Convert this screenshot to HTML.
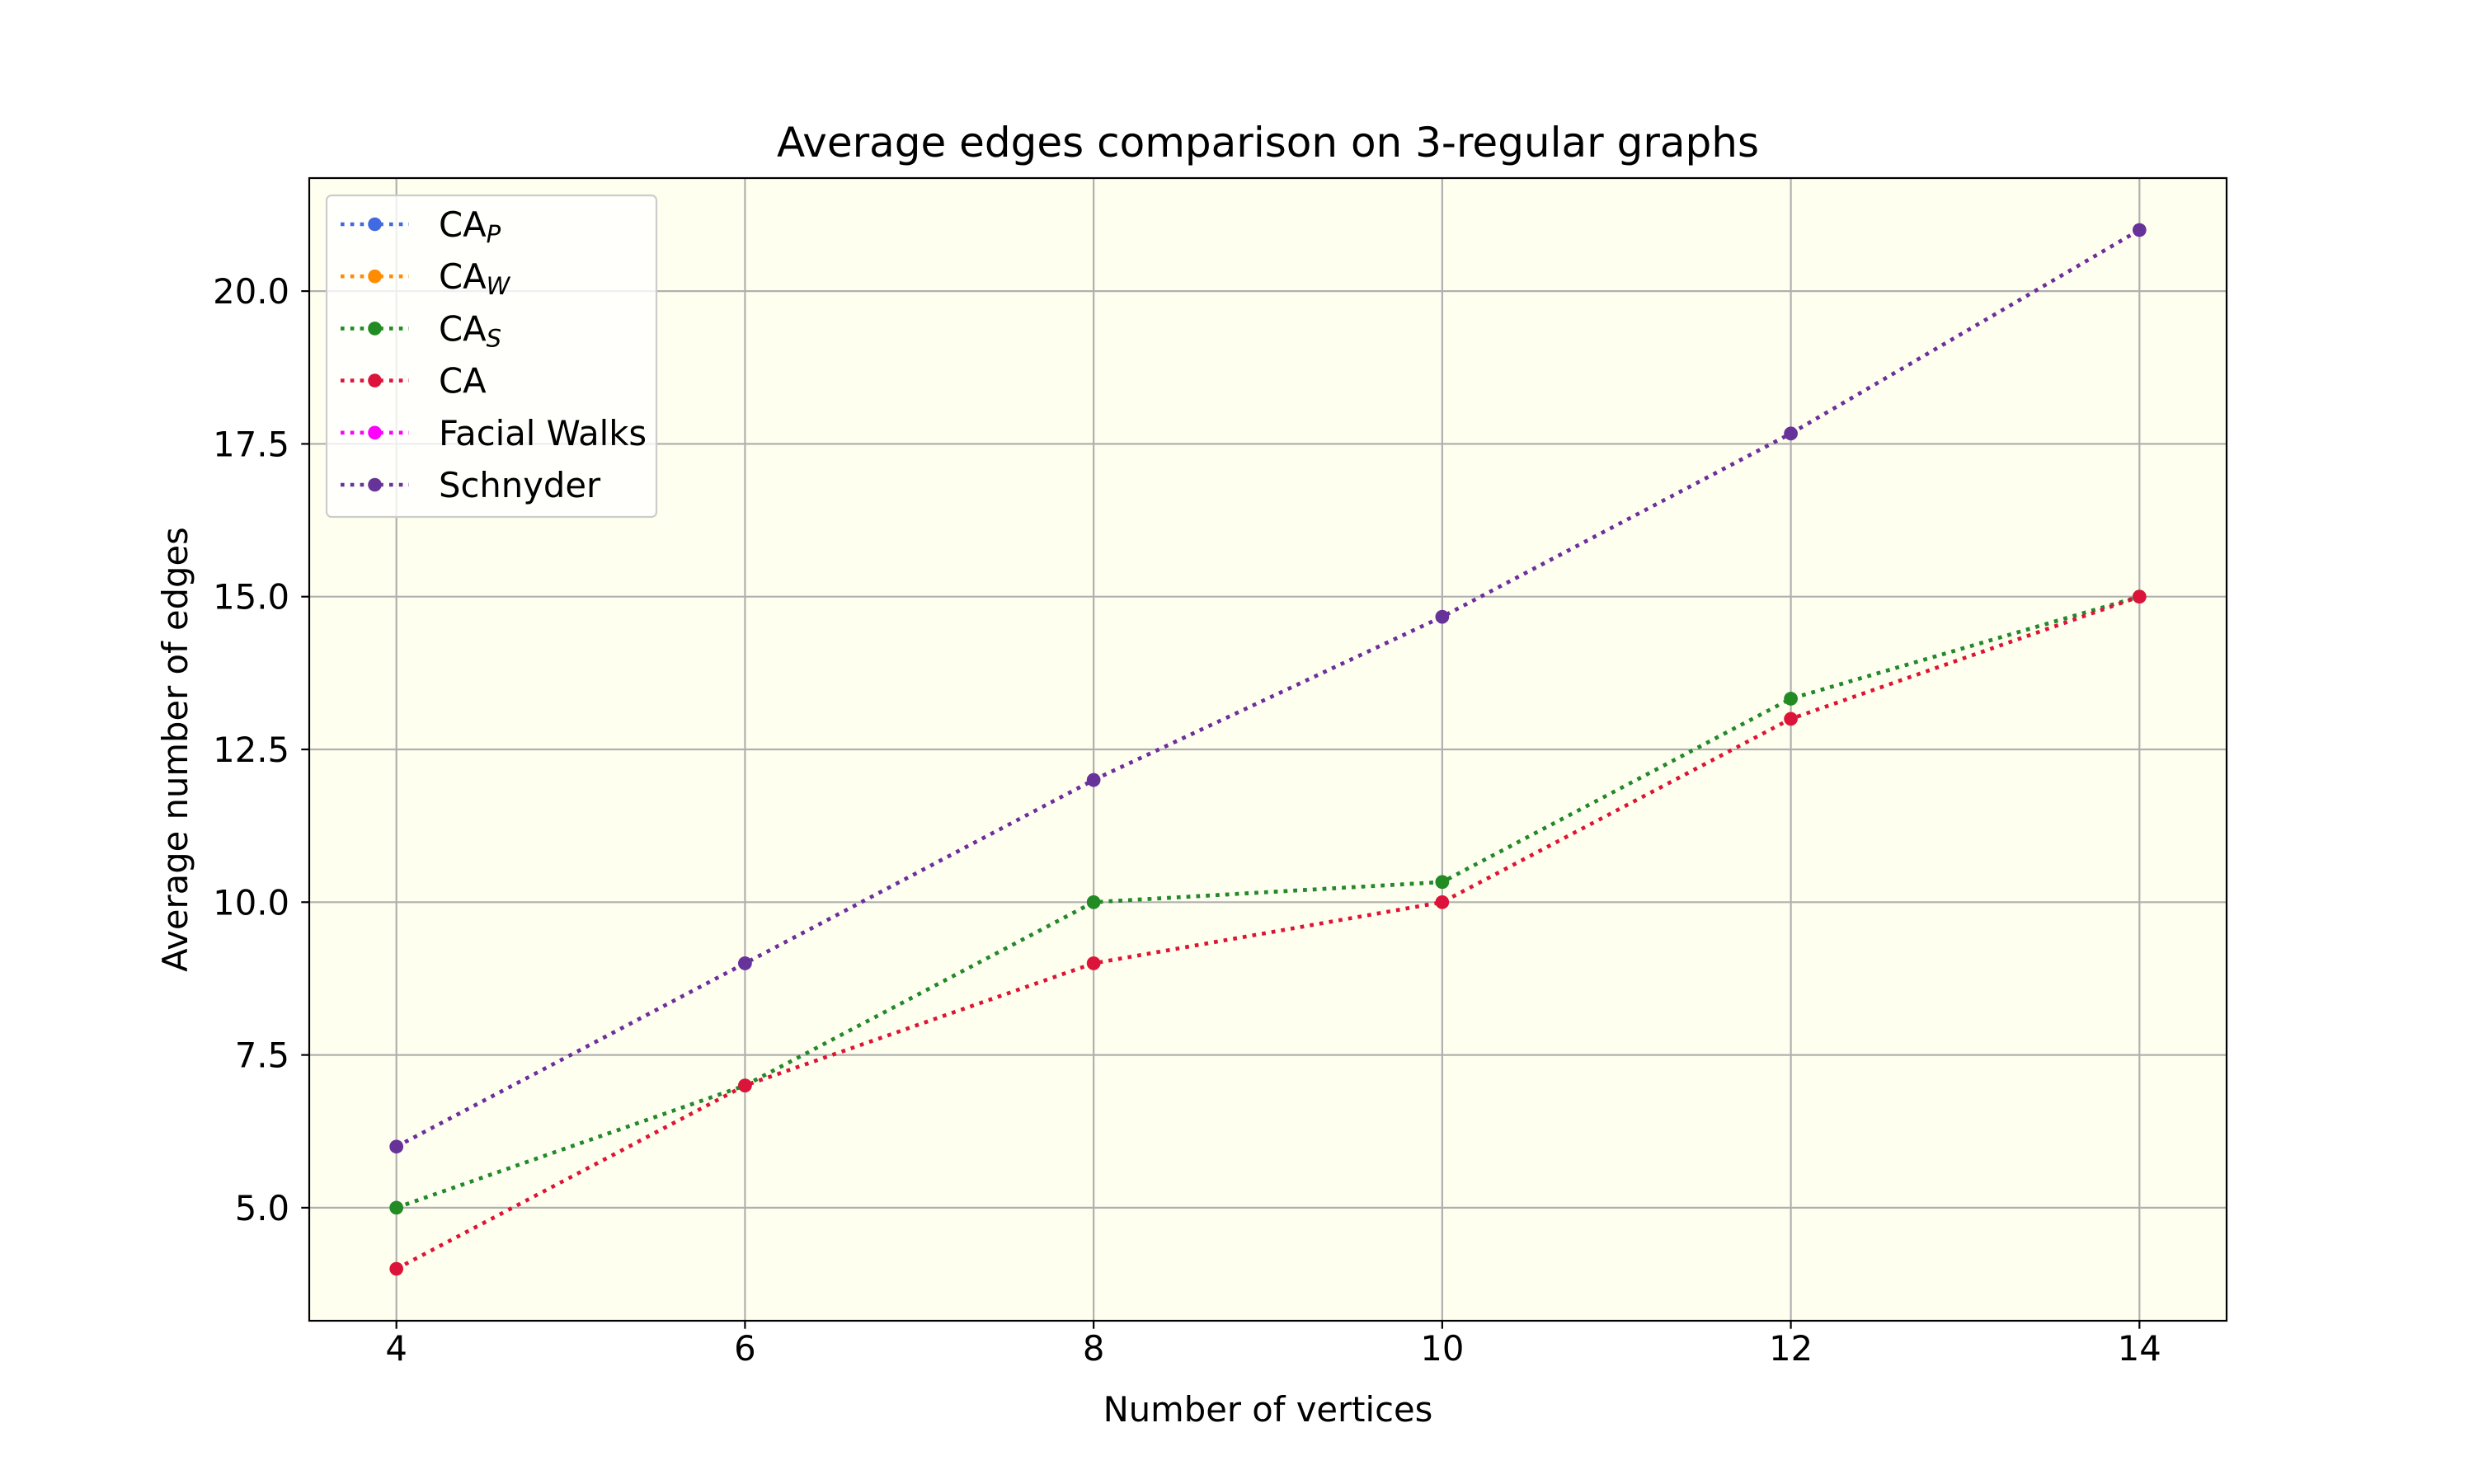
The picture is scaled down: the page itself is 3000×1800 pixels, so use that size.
<!DOCTYPE html>
<html><head><meta charset="utf-8"><style>
html,body{margin:0;padding:0;background:#fff}
svg{display:block;font-family:"DejaVu Sans","Liberation Sans",sans-serif}
</style></head><body>
<svg id="chart" width="3000" height="1800" viewBox="0 0 3000 1800" xmlns="http://www.w3.org/2000/svg">
<rect x="0" y="0" width="3000" height="1800" fill="#ffffff"/>
<rect x="375" y="216" width="2325" height="1386" fill="#fffff0"/>
<g id="grid"></g>
<g id="series"></g>
<rect x="375" y="216" width="2325" height="1386" fill="none" stroke="#000" stroke-width="2.2"/>
<g id="ticks"></g>
<text x="1537.5" y="190" font-size="50" text-anchor="middle">Average edges comparison on 3-regular graphs</text>
<text x="1537.5" y="1724" font-size="41.7" text-anchor="middle">Number of vertices</text>
<text x="227" y="909" font-size="41.7" text-anchor="middle" transform="rotate(-90 227 909)">Average number of edges</text>
<g id="legend">
<rect x="396" y="237" width="400" height="390" rx="6" fill="#ffffff" fill-opacity="0.8" stroke="#cccccc" stroke-width="2.2"/>
</g>
</svg>
<script>
const categories = [4, 6, 8, 10, 12, 14];
const seriesNames = ["CA_P", "CA_W", "CA_S", "CA", "Facial Walks", "Schnyder"];
const caP = [5, 7, 10, 10.33, 13.33, 15];
const caW = [4, 7, 9, 10, 13, 15];
const caS = [5, 7, 10, 10.33, 13.33, 15];
const ca = [4, 7, 9, 10, 13, 15];
const facialWalks = [6, 9, 12, 14.67, 17.67, 21];
const schnyder = [6, 9, 12, 14.67, 17.67, 21];
const xTicks = [4, 6, 8, 10, 12, 14];
const yTicks = [5, 7.5, 10, 12.5, 15, 17.5, 20];
const yTickLabels = ["5.0", "7.5", "10.0", "12.5", "15.0", "17.5", "20.0"];

const NS = "http://www.w3.org/2000/svg";
const L = 375, R = 2700, T = 216, B = 1602;
const allVals = [].concat(caP, caW, caS, ca, facialWalks, schnyder);
const xmin0 = Math.min(...categories), xmax0 = Math.max(...categories);
const ymin0 = Math.min(...allVals), ymax0 = Math.max(...allVals);
const xpad = (xmax0 - xmin0) * 0.05, ypad = (ymax0 - ymin0) * 0.05;
const xMin = xmin0 - xpad, xMax = xmax0 + xpad, yMin = ymin0 - ypad, yMax = ymax0 + ypad;
function sx(v) { return L + (v - xMin) / (xMax - xMin) * (R - L); }
function sy(v) { return B - (v - yMin) / (yMax - yMin) * (B - T); }
function mk(tag, attrs, parent) {
  const e = document.createElementNS(NS, tag);
  for (const k in attrs) e.setAttribute(k, attrs[k]);
  parent.appendChild(e);
  return e;
}
const grid = document.getElementById("grid");
const ticks = document.getElementById("ticks");
xTicks.forEach((t, i) => {
  const g = mk("line", {x1: sx(t), x2: sx(t), y1: T, y2: B, stroke: "#b0b0b0", "stroke-width": 2.2}, grid);
  
  
  const tk = mk("line", {x1: sx(t), x2: sx(t), y1: B, y2: B + 9.7, stroke: "#000", "stroke-width": 2.2}, ticks);
  
  
  const tx = mk("text", {x: sx(t), y: B + 48, "font-size": 41.7, "text-anchor": "middle"}, ticks);
  tx.textContent = String(t);
  
  
});
yTicks.forEach((t, i) => {
  const g = mk("line", {x1: L, x2: R, y1: sy(t), y2: sy(t), stroke: "#b0b0b0", "stroke-width": 2.2}, grid);
  
  
  const tk = mk("line", {x1: L - 9.7, x2: L, y1: sy(t), y2: sy(t), stroke: "#000", "stroke-width": 2.2}, ticks);
  
  
  const tx = mk("text", {x: L - 24, y: sy(t) + 15, "font-size": 41.7, "text-anchor": "end"}, ticks);
  tx.textContent = yTickLabels[i];
  
  
});
const seriesData = [caP, caW, caS, ca, facialWalks, schnyder];
const colors = ["#4169e1", "#ff8c00", "#228b22", "#dc143c", "#ff00ff", "#663399"];
const sg = document.getElementById("series");
seriesData.forEach((vals, si) => {
  const grp = mk("g", {}, sg);
  
  
  const pts = vals.map((v, i) => sx(categories[i]) + "," + sy(v)).join(" ");
  const pl = mk("polyline", {points: pts, fill: "none", stroke: colors[si], "stroke-width": 4.6, "stroke-dasharray": "4.6 7.2"}, grp);
  
  
  vals.forEach((v, i) => {
    const c = mk("circle", {cx: sx(categories[i]), cy: sy(v), r: 8.3, fill: colors[si]}, grp);
    
    
  });
});
const lg = document.getElementById("legend");
const labels = [["CA", "P"], ["CA", "W"], ["CA", "S"], ["CA", ""], ["Facial Walks", ""], ["Schnyder", ""]];
labels.forEach((lb, i) => {
  const y = 272 + i * 63.2;
  const ln = mk("line", {x1: 413, x2: 496, y1: y, y2: y, stroke: colors[i], "stroke-width": 4.6, "stroke-dasharray": "4.6 7.2"}, lg);
  
  
  const c = mk("circle", {cx: 454.5, cy: y, r: 8.3, fill: colors[i]}, lg);
  
  
  const t = mk("text", {x: 532, y: y + 15, "font-size": 41.7}, lg);
  
  
  t.appendChild(document.createTextNode(lb[0]));
  if (lb[1]) {
    const ts = mk("tspan", {"font-size": 29, "font-style": "italic", dy: 7}, t);
    ts.textContent = lb[1];
  }
});
</script>
</body></html>
